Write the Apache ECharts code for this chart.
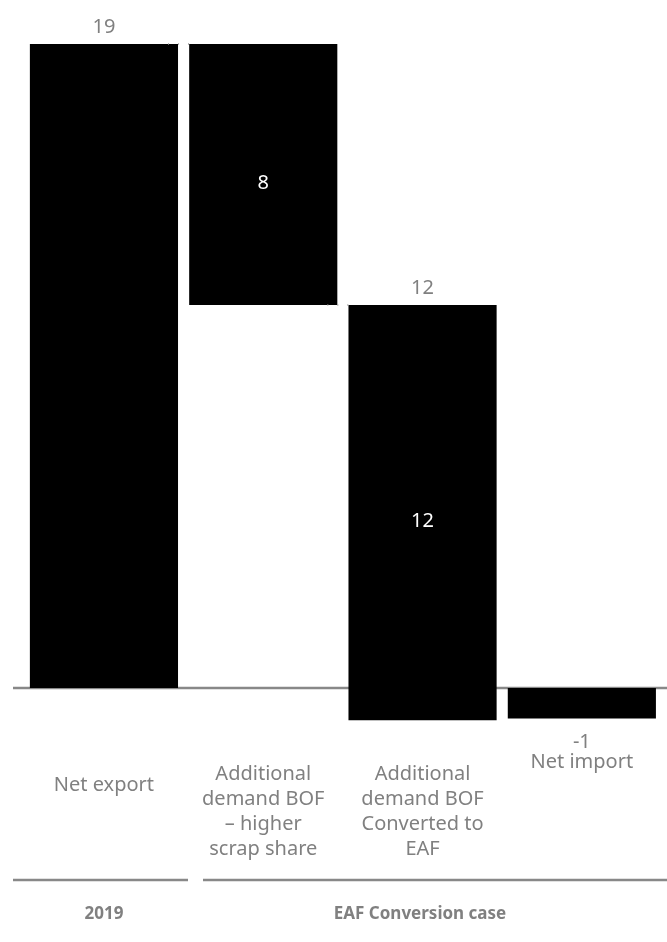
<!DOCTYPE html>
<html><head><meta charset="utf-8">
<script src="https://cdn.jsdelivr.net/npm/echarts@6/dist/echarts.min.js"></script>
<style>html,body{margin:0;padding:0;background:#fff}#c{width:667px;height:942px}</style>
</head><body><div id="c"></div>
<script>
const categories = ['Net export', 'Additional\ndemand BOF\n– higher\nscrap share', 'Additional\ndemand BOF\nConverted to\nEAF', 'Net import'];
const changes = [19, -7.7, -12.25, -0.9];
const isTotal = [true, false, false, true];
const outsideLabels = ['19', '', '12', '-1'];
const insideLabels = ['', '8', '12', ''];
const groupNames = ['2019', 'EAF Conversion case'];

// compute waterfall start/end
const bars = [];
let run = 0;
for (let i = 0; i < changes.length; i++) {
  if (isTotal[i]) { bars.push([i, 0, changes[i]]); run = changes[i]; }
  else { bars.push([i, run, run + changes[i]]); run += changes[i]; }
}

const FONT = 'Noto Sans';
const GRAY = '#808080';
const FS = 20;
const chart = echarts.init(document.getElementById('c'));
const spacer = [23, 12, 12, 0];
const rich = {n: {fontSize: FS, lineHeight: 25, color: GRAY, fontFamily: FONT}};
spacer.forEach((p, i) => { rich['s' + i] = {fontSize: 1, lineHeight: p, color: 'rgba(0,0,0,0)'}; });

chart.setOption({
  animation: false,
  grid: {left: 24.3, right: 5.5, top: 10.1, bottom: 186.2},
  xAxis: {
    type: 'category', data: categories,
    axisLine: {show: false}, axisTick: {show: false},
    axisLabel: {
      interval: 0, margin: -6, verticalAlign: 'top',
      formatter: function (v, idx) {
        const lines = v.split('\n').map(l => '{n|' + l + '}');
        if (spacer[idx] > 0) lines.unshift('{s' + idx + '| }');
        return lines.join('\n');
      },
      rich: rich
    }
  },
  yAxis: {type: 'value', min: -2, max: 20, show: false, splitLine: {show: false}},
  series: [{
    type: 'custom',
    data: bars,
    encode: {x: 0, y: [1, 2]},
    renderItem: function (params, api) {
      const i = api.value(0);
      const p1 = api.coord([i, api.value(1)]);
      const p2 = api.coord([i, api.value(2)]);
      const w = api.size([1, 0])[0] * 0.93;
      const top = Math.min(p1[1], p2[1]), bot = Math.max(p1[1], p2[1]);
      const x = p1[0] - w / 2;
      const children = [{type: 'rect', shape: {x: x, y: top, width: w, height: bot - top}, style: {fill: '#000'}}];
      // dotted connector to next bar (running total)
      if (i < bars.length - 1 && !isTotal[i + 1]) {
        const nx = api.coord([i + 1, api.value(2)]);
        children.push({type: 'line', shape: {x1: x + w - 10, y1: p2[1], x2: nx[0] - w / 2 + 4, y2: p2[1]},
          style: {stroke: '#999', lineWidth: 1.5, lineDash: [1, 9]}, z2: 10});
      }
      const ol = outsideLabels[i];
      if (ol) {
        const neg = api.value(2) < 0 && api.value(1) <= 0;
        children.push({type: 'text', style: {text: ol, x: p1[0], y: neg ? bot + 24 : top - 17, align: 'center', verticalAlign: 'middle', fill: GRAY, font: FS + 'px "' + FONT + '"'}});
      }
      const il = insideLabels[i];
      if (il) {
        children.push({type: 'text', style: {text: il, x: p1[0], y: (top + bot) / 2 + 9, align: 'center', verticalAlign: 'middle', fill: '#fff', font: FS + 'px "' + FONT + '"'}});
      }
      return {type: 'group', children: children};
    }
  }],
  graphic: [
    {type: 'line', shape: {x1: 13, y1: 688, x2: 667, y2: 688}, style: {stroke: '#888', lineWidth: 2.5}},
    {type: 'line', shape: {x1: 13, y1: 880, x2: 188, y2: 880}, style: {stroke: '#888', lineWidth: 2.5}},
    {type: 'line', shape: {x1: 203, y1: 880, x2: 667, y2: 880}, style: {stroke: '#888', lineWidth: 2.5}},
    {type: 'text', style: {text: groupNames[0], x: 104, y: 914, align: 'center', verticalAlign: 'middle', fill: GRAY, font: 'bold 17px "' + FONT + '"'}},
    {type: 'text', style: {text: groupNames[1], x: 420, y: 914, align: 'center', verticalAlign: 'middle', fill: GRAY, font: 'bold 17px "' + FONT + '"'}}
  ]
});
</script></body></html>
